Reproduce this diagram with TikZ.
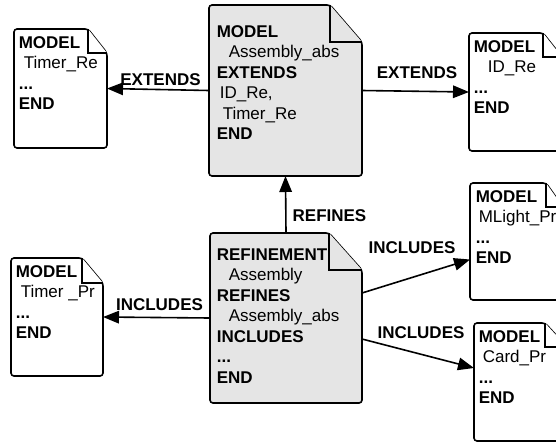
\documentclass[tikz,border=0pt]{standalone}
\usepackage{fontspec}
\setmainfont{Liberation Sans}
\usetikzlibrary{arrows.meta}

% page outline with a folded corner: node, fold width, fold height, fill
\newcommand{\pagefold}[4]{%
  \filldraw[fill=#4, rounded corners=3pt] (#1.north west) -- ([xshift=-#2pt]#1.north east) -- ([yshift=-#3pt]#1.north east) -- (#1.south east) -- (#1.south west) -- cycle;
  \draw[fill=#4] ([xshift=-#2pt]#1.north east) |- ([yshift=-#3pt]#1.north east);
}

\begin{document}
\begin{tikzpicture}[x=1pt, y=-1pt, line width=1.6pt,
  page/.style={rectangle, draw=none, inner sep=0pt, outer sep=0pt, anchor=north west},
  pagetext/.style={anchor=north west, inner sep=0pt, align=left, font=\fontsize{17}{20.5}\selectfont},
  rel/.style={-{Triangle[length=16pt, width=12.5pt]}},
  rellabel/.style={font=\bfseries\fontsize{17}{20.5}\selectfont, inner sep=0pt}]
	\useasboundingbox (0,0) rectangle (556,442);
	% Abstract model and its refinement
	\node[page, minimum width=153pt, minimum height=171pt] at (209,5) (assemblyAbs) {};
	\pagefold{assemblyAbs}{32}{37}{black!10}
	\node[pagetext] at ([xshift=7pt, yshift=-19.8pt]assemblyAbs.north west) (assemblyAbsText) {\textbf{MODEL}\\\hspace*{12pt}Assembly\_abs\\\textbf{EXTENDS}\\\hspace*{3pt}ID\_Re,\\\hspace*{6pt}Timer\_Re\\\textbf{END}};
	
	\node[page, minimum width=152pt, minimum height=170pt] at (210,233) (assembly) {};
	\pagefold{assembly}{33}{37}{black!10}
	\node[pagetext] at ([xshift=6pt, yshift=-14.8pt]assembly.north west) (assemblyText) {\textbf{REFINEMENT}\\\hspace*{12pt}Assembly\\\textbf{REFINES}\\\hspace*{12pt}Assembly\_abs\\\textbf{INCLUDES}\\\textbf{...}\\\textbf{END}};
	
	% Other models
	\node[page, minimum width=93pt, minimum height=119pt] at (14,29) (timerRe) {};
	\pagefold{timerRe}{19}{24}{white}
	\node[pagetext] at ([xshift=4pt, yshift=-6.8pt]timerRe.north west) (timerReText) {\textbf{MODEL}\\\hspace*{5pt}Timer\_Re\\\textbf{...}\\\textbf{END}};
	
	\node[page, minimum width=93pt, minimum height=118pt] at (469,33) (idRe) {};
	\pagefold{idRe}{19}{24}{white}
	\node[pagetext] at ([xshift=4pt, yshift=-6.8pt]idRe.north west) (idReText) {\textbf{MODEL}\\\hspace*{14pt}ID\_Re\\\textbf{...}\\\textbf{END}};
	
	\node[page, minimum width=93pt, minimum height=117pt] at (470,183) (mlightPr) {};
	\pagefold{mlightPr}{17}{24}{white}
	\node[pagetext] at ([xshift=5pt, yshift=-6.8pt]mlightPr.north west) (mlightPrText) {\textbf{MODEL}\\\hspace*{3pt}MLight\_Pr\\\textbf{...}\\\textbf{END}};
	
	\node[page, minimum width=93pt, minimum height=118pt] at (474,323) (cardPr) {};
	\pagefold{cardPr}{22}{24}{white}
	\node[pagetext] at ([xshift=4pt, yshift=-6.8pt]cardPr.north west) (cardPrText) {\textbf{MODEL}\\\hspace*{4pt}Card\_Pr\\\textbf{...}\\\textbf{END}};
	
	\node[page, minimum width=92pt, minimum height=118pt] at (11,258) (timerPr) {};
	\pagefold{timerPr}{21}{25}{white}
	\node[pagetext] at ([xshift=4pt, yshift=-6.8pt]timerPr.north west) (timerPrText) {\textbf{MODEL}\\\hspace*{5pt}Timer \_Pr\\\textbf{...}\\\textbf{END}};
	
	% Relations
	\draw[rel] (assemblyAbs.west) -- (timerRe.east) node[rellabel, midway, above=3pt, xshift=2.5pt] {EXTENDS};
	\draw[rel] (assemblyAbs.east) -- (idRe.west) node[rellabel, midway, above=12pt, xshift=1.5pt] {EXTENDS};
	\draw[rel] (assembly.north) -- (assemblyAbs.south) node[rellabel, pos=0.3, right=6pt] {REFINES};
	\draw[rel] (assembly.west) -- (timerPr.east) node[rellabel, midway, above=6pt, xshift=3pt] {INCLUDES};
	\draw[rel] ([yshift=25pt]assembly.east) -- ([yshift=-18pt]mlightPr.west) node[rellabel, midway, above=22pt, xshift=-4pt] {INCLUDES};
	\draw[rel] ([yshift=-21pt]assembly.east) -- ([yshift=14pt]cardPr.west) node[rellabel, midway, above=14.5pt, xshift=3pt] {INCLUDES};
\end{tikzpicture}
\end{document}
